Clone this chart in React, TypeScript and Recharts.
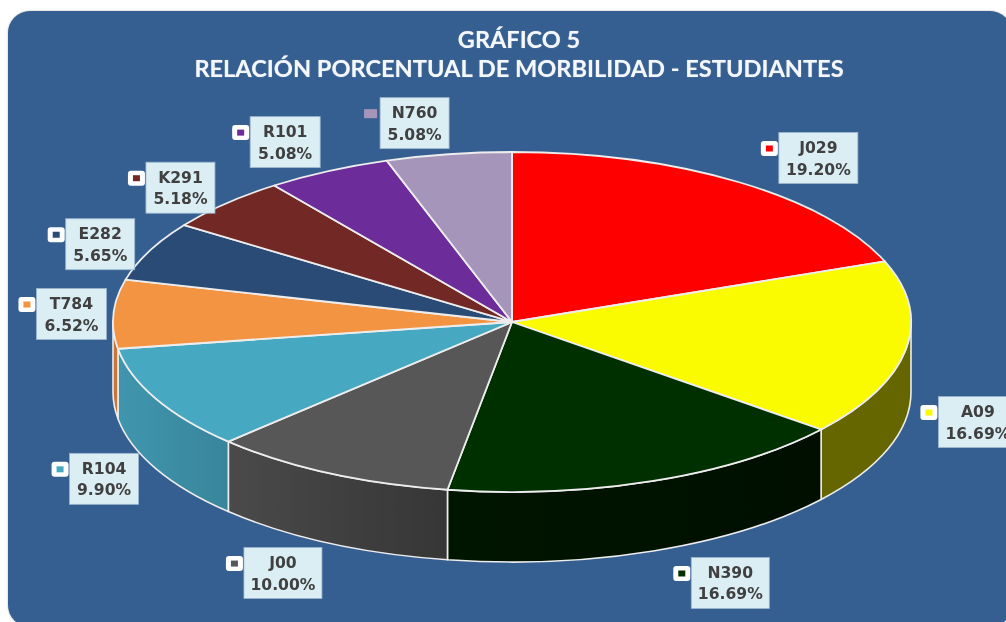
import React from "react";
import { PieChart, Pie } from "recharts";

const categories = ["J029", "A09", "N390", "J00", "R104", "T784", "E282", "K291", "R101", "N760"];
const shares = [19.2, 16.69, 16.69, 10.0, 9.9, 6.52, 5.65, 5.18, 5.08, 5.08];
const topColors = ["#FF0000", "#FBFB00", "#003000", "#575757", "#47A8C2", "#F39443", "#2A4B75", "#722825", "#6C2C9A", "#A695BB"];
const wallStart = ["#990000", "#666600", "#001500", "#4A4A4A", "#4096AE", "#C8763A", "#1F3A5C", "#501C1A", "#4C1F6C", "#75688A"];
const wallEnd = ["#990000", "#666600", "#000F00", "#363636", "#38859B", "#C8763A", "#1F3A5C", "#501C1A", "#4C1F6C", "#75688A"];
// Layout of the data labels: shift from the rim point at the slice's middle angle.
const labelDx = [80, 72, 77, -46, -52, -42, -49, -45, -43, -34];
const labelDy = [-24, 73, 102, 100, 80, 0, -7, -16, -29, -31];
const labelW = [79, 79, 78, 78, 69, 70, 69, 69, 70, 69];
const plainKeys = ["N760"];

const data = categories.map((name, i) => ({ name, value: shares[i], fill: topColors[i] }));

const SQUASH = 170 / 399;
const DEPTH = 70;
const RAD = Math.PI / 180;

function Slice(props: any) {
  const { cx, cy, outerRadius, startAngle, endAngle, index } = props;
  const rx = outerRadius;
  const ry = outerRadius * SQUASH;
  const px = (a: number) => cx + rx * Math.cos(a * RAD);
  const py = (a: number) => cy - ry * Math.sin(a * RAD);
  const hiA = Math.max(startAngle, endAngle);
  const loA = Math.min(startAngle, endAngle);
  const large = hiA - loA > 180 ? 1 : 0;
  const top = `M${cx},${cy}L${px(hiA)},${py(hiA)}A${rx},${ry} 0 ${large} 1 ${px(loA)},${py(loA)}Z`;
  const wHi = Math.min(hiA, 0);
  const wLo = Math.max(loA, -180);
  const hasWall = wHi > wLo;
  const gid = `wall-${index}`;
  const wall = hasWall
    ? `M${px(wHi)},${py(wHi)}A${rx},${ry} 0 0 1 ${px(wLo)},${py(wLo)}L${px(wLo)},${py(wLo) + DEPTH}A${rx},${ry} 0 0 0 ${px(wHi)},${py(wHi) + DEPTH}Z`
    : "";
  return (
    <g>
      {hasWall && (
        <>
          <defs>
            <linearGradient id={gid} x1="0" y1="0" x2="1" y2="0">
              <stop offset="0%" stopColor={wallStart[index]} />
              <stop offset="100%" stopColor={wallEnd[index]} />
            </linearGradient>
          </defs>
          <path d={wall} fill={`url(#${gid})`} stroke="#EDEDED" strokeWidth={1.6} strokeLinejoin="round" />
        </>
      )}
      <path d={top} fill={topColors[index]} stroke="#EDEDED" strokeWidth={1.8} strokeLinejoin="round" />
    </g>
  );
}

function SliceLabel(props: any) {
  const { cx, cy, outerRadius, midAngle, index } = props;
  const ax = cx + outerRadius * Math.cos(midAngle * RAD);
  const ay = cy - outerRadius * SQUASH * Math.sin(midAngle * RAD);
  const x = ax + labelDx[index];
  const y = ay + labelDy[index];
  const w = labelW[index];
  const h = 51;
  const left = x - w / 2;
  const plain = plainKeys.includes(categories[index]);
  const keyY = y - 9.5;
  const textProps = {
    x,
    textAnchor: "middle" as const,
    dominantBaseline: "middle" as const,
    fontFamily: "'DejaVu Sans'",
    fontWeight: 700,
    fontSize: 15.6,
    fill: "#404040",
  };
  return (
    <g>
      {plain ? (
        <rect x={left - 16} y={keyY - 4.5} width={13} height={9} fill={topColors[index]} />
      ) : (
        <>
          <rect x={left - 18} y={keyY - 7.5} width={17} height={15} rx={3} fill="#FFFFFF" />
          <rect x={left - 13} y={keyY - 3} width={7} height={6} fill={topColors[index]} />
        </>
      )}
      <rect x={left} y={y - h / 2} width={w} height={h} fill="#DAEEF3" stroke="#9DB6CF" strokeWidth={0.8} />
      <text {...textProps} y={y - 9.5}>
        {categories[index]}
      </text>
      <text {...textProps} y={y + 12}>
        {shares[index].toFixed(2)}%
      </text>
    </g>
  );
}

const titleStyle: React.CSSProperties = {
  position: "absolute",
  left: 0,
  width: 1038,
  textAlign: "center",
  color: "#F4F7FB",
  fontFamily: "Lato, sans-serif",
  fontWeight: 700,
  whiteSpace: "nowrap",
  lineHeight: "26px",
  textShadow: "0 0 1px rgba(255,255,255,0.5)",
};

export default function App() {
  return (
    <div
      style={{
        position: "absolute",
        left: 0,
        top: 0,
        width: 1006,
        height: 622,
        overflow: "hidden",
        background: "#FFFFFF",
        filter: "blur(0.4px)",
      }}
    >
      <div
        style={{
          position: "absolute",
          left: 8,
          top: 11,
          width: 1004,
          height: 616,
          borderRadius: 22,
          background: "#365F91",
          boxShadow: "0 0 2px rgba(120,120,120,0.6)",
        }}
      />
      <div style={{ ...titleStyle, top: 26, fontSize: 23.5 }}>GRÁFICO 5</div>
      <div style={{ ...titleStyle, top: 55, fontSize: 23.6 }}>RELACIÓN PORCENTUAL DE MORBILIDAD - ESTUDIANTES</div>
      <div style={{ position: "absolute", left: 0, top: 0 }}>
        <PieChart width={1006} height={622} margin={{ top: 0, right: 0, bottom: 0, left: 0 }}>
          <Pie
            data={data}
            dataKey="value"
            nameKey="name"
            cx={512}
            cy={322}
            innerRadius={0}
            outerRadius={399}
            startAngle={90}
            endAngle={-270}
            stroke="none"
            isAnimationActive={false}
            shape={Slice}
            label={SliceLabel}
            labelLine={false}
          />
        </PieChart>
      </div>
    </div>
  );
}
